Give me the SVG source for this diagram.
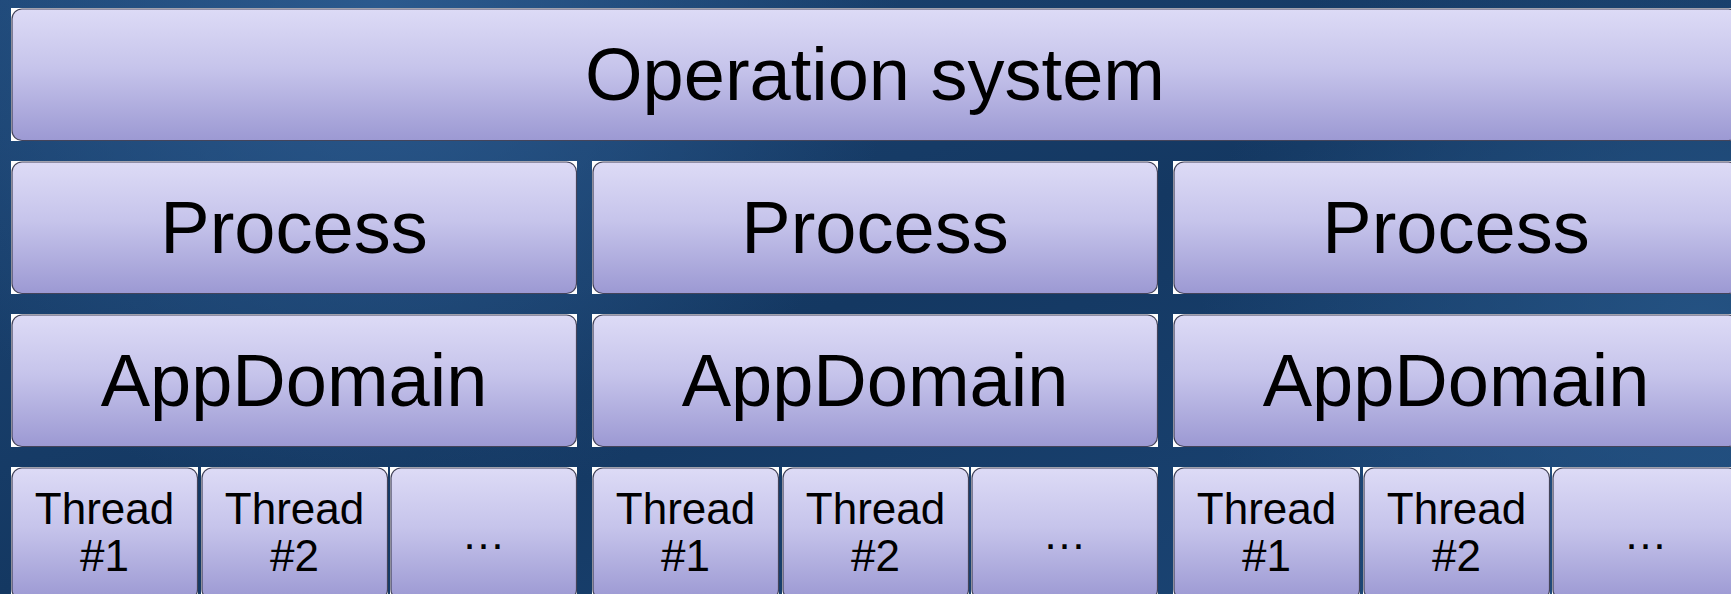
<svg xmlns="http://www.w3.org/2000/svg" width="1731" height="594" viewBox="0 0 1731 594">
  <defs>
    <linearGradient id="bg" x1="0" y1="0" x2="1" y2="1">
      <stop offset="0" stop-color="#1d4675"/>
      <stop offset="0.5" stop-color="#143862"/>
      <stop offset="1" stop-color="#1c4778"/>
    </linearGradient>
    <radialGradient id="glow1" cx="380" cy="0" r="520" gradientUnits="userSpaceOnUse">
      <stop offset="0" stop-color="#2d5c91" stop-opacity="0.9"/>
      <stop offset="1" stop-color="#2d5c91" stop-opacity="0"/>
    </radialGradient>
    <radialGradient id="glow2" cx="1700" cy="320" r="500" gradientUnits="userSpaceOnUse">
      <stop offset="0" stop-color="#275687" stop-opacity="0.8"/>
      <stop offset="1" stop-color="#275687" stop-opacity="0"/>
    </radialGradient>
    <linearGradient id="boxFill" x1="0" y1="0" x2="0" y2="1">
      <stop offset="0" stop-color="#dddbf6"/>
      <stop offset="0.45" stop-color="#c6c4eb"/>
      <stop offset="1" stop-color="#9c99d3"/>
    </linearGradient>
    <style>
      .halo { fill: #ffffff; }
      .box { fill: url(#boxFill); stroke: #44445a; stroke-width: 1.2; }
      .big { font-family: "Liberation Sans", Arial, sans-serif; font-size: 74px; fill: #000; text-anchor: middle; }
      .small { font-family: "Liberation Sans", Arial, sans-serif; font-size: 44px; fill: #000; text-anchor: middle; }
    </style>
  </defs>

  <!-- backdrop -->
  <rect x="0" y="0" width="1731" height="594" fill="url(#bg)"/>
  <rect x="0" y="0" width="1731" height="594" fill="url(#glow1)"/>
  <rect x="0" y="0" width="1731" height="594" fill="url(#glow2)"/>

  <!-- operating system layer -->
  <g id="os">
    <rect class="halo" x="11" y="8" width="1728" height="133"/>
    <rect class="box" x="12" y="9" width="1726.5" height="131.5" rx="10"/>
    <text class="big" x="875" y="100">Operation system</text>
  </g>

  <!-- processes -->
  <g id="process-1">
    <rect class="halo" x="11" y="161" width="566" height="133"/>
    <rect class="box" x="12" y="162" width="564.5" height="131.5" rx="10"/>
    <text class="big" x="294" y="253">Process</text>
  </g>
  <g id="process-2">
    <rect class="halo" x="592" y="161" width="566" height="133"/>
    <rect class="box" x="593" y="162" width="564.5" height="131.5" rx="10"/>
    <text class="big" x="875" y="253">Process</text>
  </g>
  <g id="process-3">
    <rect class="halo" x="1173" y="161" width="566" height="133"/>
    <rect class="box" x="1174" y="162" width="564.5" height="131.5" rx="10"/>
    <text class="big" x="1456" y="253">Process</text>
  </g>

  <!-- application domains -->
  <g id="appdomain-1">
    <rect class="halo" x="11" y="314" width="566" height="133"/>
    <rect class="box" x="12" y="315" width="564.5" height="131.5" rx="10"/>
    <text class="big" x="294" y="406">AppDomain</text>
  </g>
  <g id="appdomain-2">
    <rect class="halo" x="592" y="314" width="566" height="133"/>
    <rect class="box" x="593" y="315" width="564.5" height="131.5" rx="10"/>
    <text class="big" x="875" y="406">AppDomain</text>
  </g>
  <g id="appdomain-3">
    <rect class="halo" x="1173" y="314" width="566" height="133"/>
    <rect class="box" x="1174" y="315" width="564.5" height="131.5" rx="10"/>
    <text class="big" x="1456" y="406">AppDomain</text>
  </g>

  <!-- threads, column 1 -->
  <g id="thread-1-1">
    <rect class="halo" x="11" y="467" width="187" height="133"/>
    <rect class="box" x="12" y="468" width="185.5" height="131.5" rx="10"/>
    <text class="small" x="104.5" y="523.5">Thread</text>
    <text class="small" x="104.5" y="570.5">#1</text>
  </g>
  <g id="thread-1-2">
    <rect class="halo" x="201" y="467" width="187" height="133"/>
    <rect class="box" x="202" y="468" width="185.5" height="131.5" rx="10"/>
    <text class="small" x="294.5" y="523.5">Thread</text>
    <text class="small" x="294.5" y="570.5">#2</text>
  </g>
  <g id="thread-1-3">
    <rect class="halo" x="390" y="467" width="187" height="133"/>
    <rect class="box" x="391" y="468" width="185.5" height="131.5" rx="10"/>
    <text class="small" x="483.5" y="548.5">…</text>
  </g>

  <!-- threads, column 2 -->
  <g id="thread-2-1">
    <rect class="halo" x="592" y="467" width="187" height="133"/>
    <rect class="box" x="593" y="468" width="185.5" height="131.5" rx="10"/>
    <text class="small" x="685.5" y="523.5">Thread</text>
    <text class="small" x="685.5" y="570.5">#1</text>
  </g>
  <g id="thread-2-2">
    <rect class="halo" x="782" y="467" width="187" height="133"/>
    <rect class="box" x="783" y="468" width="185.5" height="131.5" rx="10"/>
    <text class="small" x="875.5" y="523.5">Thread</text>
    <text class="small" x="875.5" y="570.5">#2</text>
  </g>
  <g id="thread-2-3">
    <rect class="halo" x="971" y="467" width="187" height="133"/>
    <rect class="box" x="972" y="468" width="185.5" height="131.5" rx="10"/>
    <text class="small" x="1064.5" y="548.5">…</text>
  </g>

  <!-- threads, column 3 -->
  <g id="thread-3-1">
    <rect class="halo" x="1173" y="467" width="187" height="133"/>
    <rect class="box" x="1174" y="468" width="185.5" height="131.5" rx="10"/>
    <text class="small" x="1266.5" y="523.5">Thread</text>
    <text class="small" x="1266.5" y="570.5">#1</text>
  </g>
  <g id="thread-3-2">
    <rect class="halo" x="1363" y="467" width="187" height="133"/>
    <rect class="box" x="1364" y="468" width="185.5" height="131.5" rx="10"/>
    <text class="small" x="1456.5" y="523.5">Thread</text>
    <text class="small" x="1456.5" y="570.5">#2</text>
  </g>
  <g id="thread-3-3">
    <rect class="halo" x="1552" y="467" width="187" height="133"/>
    <rect class="box" x="1553" y="468" width="185.5" height="131.5" rx="10"/>
    <text class="small" x="1645.5" y="548.5">…</text>
  </g>
</svg>
